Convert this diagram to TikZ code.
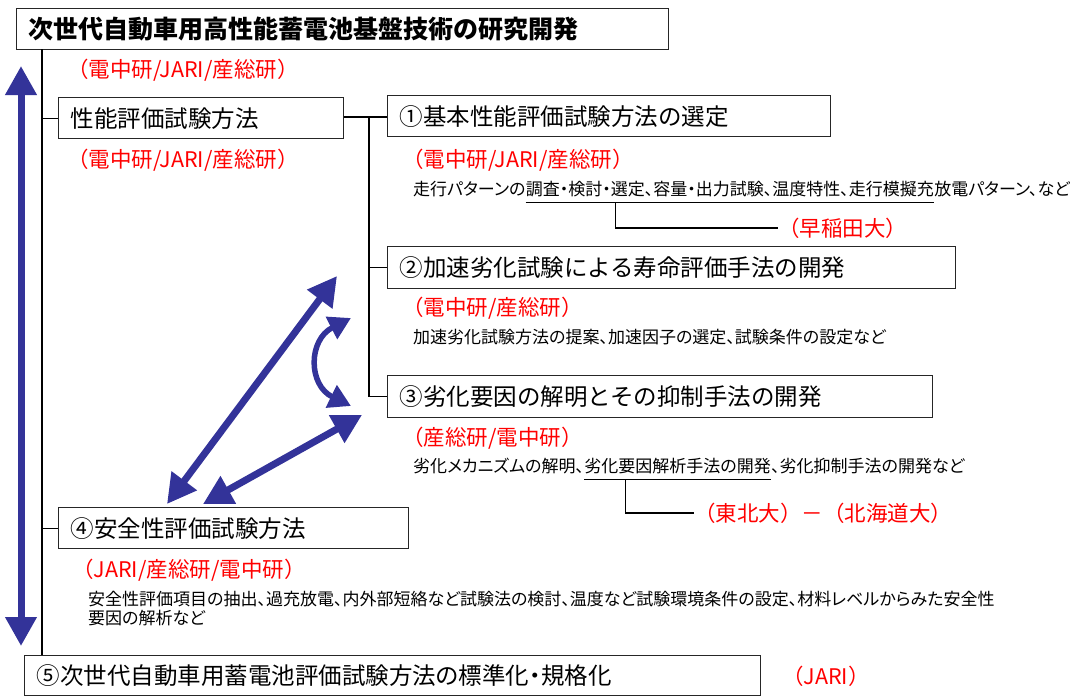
\documentclass[tikz,border=0pt]{standalone}
\usepackage{fontspec}
\setmainfont{Noto Sans CJK JP}
\newfontfamily\jpnote[RawFeature=+palt]{Noto Sans CJK JP}
\usetikzlibrary{arrows.meta,positioning,calc}
\definecolor{arrowblue}{RGB}{51,51,153}

\begin{document}
\begin{tikzpicture}[x=1pt,y=-1pt,
  box/.style={draw=black!85,line width=1.3pt,fill=white,anchor=north west,inner xsep=12pt,inner ysep=0pt,minimum height=41pt,align=left,font=\fontsize{23.5}{27}\selectfont},
  org/.style={anchor=west,inner sep=0pt,text=red,font=\fontsize{21.5}{25}\selectfont},
  note/.style={anchor=west,inner sep=0pt,font=\jpnote\fontsize{17}{19}\selectfont},
  seg/.style={note,text height=13pt,text depth=3pt},
  ln/.style={line width=1.3pt},
  big/.style={draw=arrowblue,line width=7pt,{Triangle[width=30pt,length=29pt]}-{Triangle[width=30pt,length=29pt]}},
  curv/.style={draw=arrowblue,line width=5.5pt,{Triangle[width=24pt,length=22pt]}-{Triangle[width=24pt,length=22pt]}}]
\useasboundingbox (0,0) rectangle (1070,696);
\node[box,text width=628pt,font=\fontsize{25}{29}\selectfont\bfseries](top) at (16,8){次世代自動車用高性能蓄電池基盤技術の研究開発};
\node[org](otop) at (67,70){（電中研/JARI/産総研）};
\node[box,text width=261pt](perf) at (58,97){性能評価試験方法};
\node[org](operf) at (67,160){（電中研/JARI/産総研）};
\node[box,text width=419pt](b1) at (387,95){①基本性能評価試験方法の選定};
\node[org](o1) at (402,160){（電中研/JARI/産総研）};
\node[seg](d1a) at (413,190){走行パターンの};
\node[seg,right=0pt of d1a](d1b){調査・検討・選定、容量・出力試験、温度特性、走行模擬充};
\node[seg,right=0pt of d1b](d1c){放電パターン、など};
\node[org](w1) at (778,228){（早稲田大）};
\node[box,text width=544pt,minimum height=42pt](b2) at (387,246){②加速劣化試験による寿命評価手法の開発};
\node[org](o2) at (402,308){（電中研/産総研）};
\node[note](d2) at (413,337){加速劣化試験方法の提案、加速因子の選定、試験条件の設定など};
\node[box,text width=521pt,minimum height=42pt](b3) at (387,375){③劣化要因の解明とその抑制手法の開発};
\node[org](o3) at (402,438){（産総研/電中研）};
\node[seg](d3a) at (413,467){劣化メカニズムの解明、};
\node[seg,right=0pt of d3a](d3b){劣化要因解析手法の開発};
\node[seg,right=0pt of d3b](d3c){、劣化抑制手法の開発など};
\node[org](w3) at (694,513){（東北大）－（北海道大）};
\node[box,text width=326pt](b4) at (58,507){④安全性評価試験方法};
\node[org](o4) at (72,570){（JARI/産総研/電中研）};
\node[note,anchor=north west,align=left](d4) at (88,591){安全性評価項目の抽出、過充放電、内外部短絡など試験法の検討、温度など試験環境条件の設定、材料レベルからみた安全性\\要因の解析など};
\node[box,text width=712pt,minimum height=40pt,font=\jpnote\fontsize{23.5}{27}\selectfont](b5) at (24,655){⑤次世代自動車用蓄電池評価試験方法の標準化・規格化};
\node[org](o5) at (782,676){（JARI）};
\coordinate (t0) at (42,49);
\coordinate (s0) at (369,117);
\draw[ln](t0)--(t0|-b5.north);
\draw[ln](t0|-perf.west)--(perf.west);
\draw[ln](t0|-b4.west)--(b4.west);
\draw[ln](perf.east|-s0)--(b1.west|-s0);
\draw[ln](s0)--(s0|-b3.west);
\draw[ln](s0|-b2.west)--(b2.west);
\draw[ln](s0|-b3.west)--(b3.west);
\draw[ln]($(d1b.south west)+(0,4)$)--($(d1b.south east)+(0,4)$);
\draw[ln]($(d1b.south west)!0.22!(d1b.south east)+(0,4)$)|-(w1.west);
\draw[ln]($(d3b.south west)+(0,4)$)--($(d3b.south east)+(0,4)$);
\draw[ln]($(d3b.south west)!0.22!(d3b.south east)+(0,4)$)|-(w3.west);
\coordinate (v0) at (21,66);
\coordinate (v1) at (21,646);
\coordinate (a0) at (167,504);
\coordinate (a1) at (337,276);
\coordinate (c0) at (203,504);
\coordinate (c1) at (362,415);
\coordinate (e0) at (351,318);
\coordinate (e1) at (351,406);
\draw[big](v0)--(v1);
\draw[big](a0)--(a1);
\draw[big](c0)--(c1);
\draw[curv](e0)..controls(308,340)and(308,385)..(e1);
\end{tikzpicture}
\end{document}
